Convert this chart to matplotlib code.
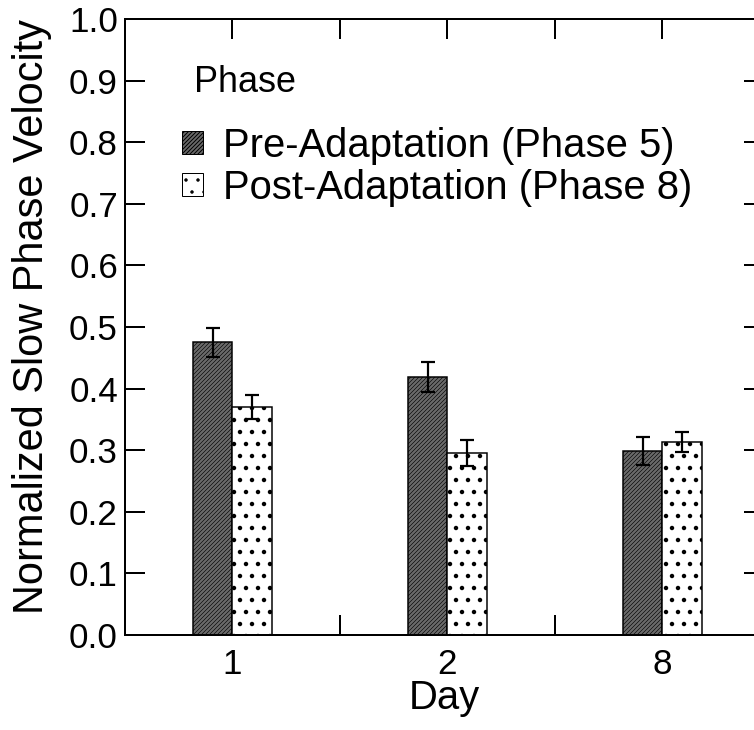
import matplotlib
matplotlib.use("Agg")
import matplotlib.pyplot as plt
import numpy as np
from matplotlib.patches import Patch

days = ["1", "2", "8"]
pre_vals = [0.475, 0.419, 0.299]
pre_err = [0.024, 0.024, 0.023]
post_vals = [0.370, 0.296, 0.313]
post_err = [0.020, 0.021, 0.016]
series_labels = ["Pre-Adaptation (Phase 5)", "Post-Adaptation (Phase 8)"]
y_ticks = [0.0, 0.1, 0.2, 0.3, 0.4, 0.5, 0.6, 0.7, 0.8, 0.9, 1.0]

DPI = 72
plt.rcParams['font.family'] = ['Liberation Sans', 'DejaVu Sans']
plt.rcParams['hatch.linewidth'] = 1.0

DARK = '#6a6a6a'

fig = plt.figure(figsize=(754 / DPI, 730 / DPI), dpi=DPI)
ax_w, ax_h = 638.5, 616
ax = fig.add_axes([125 / 754, 95 / 730, ax_w / 754, ax_h / 730])

x = np.arange(len(days))
w = 0.185
b1 = ax.bar(x - w / 2, pre_vals, w, facecolor=DARK, edgecolor='black',
            linewidth=1.5, hatch='//////', zorder=2)
b2 = ax.bar(x + w / 2, post_vals, w, facecolor='white', edgecolor='black',
            linewidth=1.5, hatch='.', zorder=2)
for p in b1:
    if hasattr(p, 'set_hatch_linewidth'):
        p.set_hatch_linewidth(0.6)
for p in b2:
    if hasattr(p, 'set_hatch_linewidth'):
        p.set_hatch_linewidth(2.0)
ax.errorbar(x - w / 2, pre_vals, yerr=pre_err, fmt='none', ecolor='black',
            elinewidth=2.2, capsize=7, capthick=2.2, zorder=3)
ax.errorbar(x + w / 2, post_vals, yerr=post_err, fmt='none', ecolor='black',
            elinewidth=2.2, capsize=7, capthick=2.2, zorder=3)

ax.set_xlim(-0.5, 2.47)
ax.set_ylim(0, 1.0)
ax.set_xticks([0, 0.5, 1, 1.5, 2])
ax.set_xticklabels([days[0], "", days[1], "", days[2]])
ax.set_yticks(y_ticks)
ax.set_yticklabels([f"{v:.1f}" for v in y_ticks])

for s in ax.spines.values():
    s.set_linewidth(2)
ax.tick_params(axis='both', direction='in', length=20, width=2,
               top=True, right=True, labelsize=35)
ax.tick_params(axis='y', pad=7)
ax.tick_params(axis='x', pad=13)

ax.set_xlabel("Day", fontsize=40, labelpad=-2)
ax.set_ylabel("Normalized Slow Phase Velocity", fontsize=41.5)
ax.yaxis.set_label_coords(-0.115, (635 - 317) / ax_h)

handles = [Patch(facecolor=DARK, edgecolor='black', hatch='//////', linewidth=1),
           Patch(facecolor='white', edgecolor='black', hatch='.', linewidth=1)]
leg = ax.legend(handles, series_labels, loc='upper left',
                bbox_to_anchor=((182 - 125) / ax_w, (635 - 127) / ax_h),
                frameon=False, fontsize=40, handlelength=0.52, handleheight=0.52,
                handletextpad=0.5, labelspacing=0.1, borderaxespad=0, borderpad=0)
ax.text((194 - 125) / ax_w, (635 - 82) / ax_h, "Phase", transform=ax.transAxes,
        fontsize=36, va='center', ha='left')

fig.savefig("out.png", dpi=DPI)
